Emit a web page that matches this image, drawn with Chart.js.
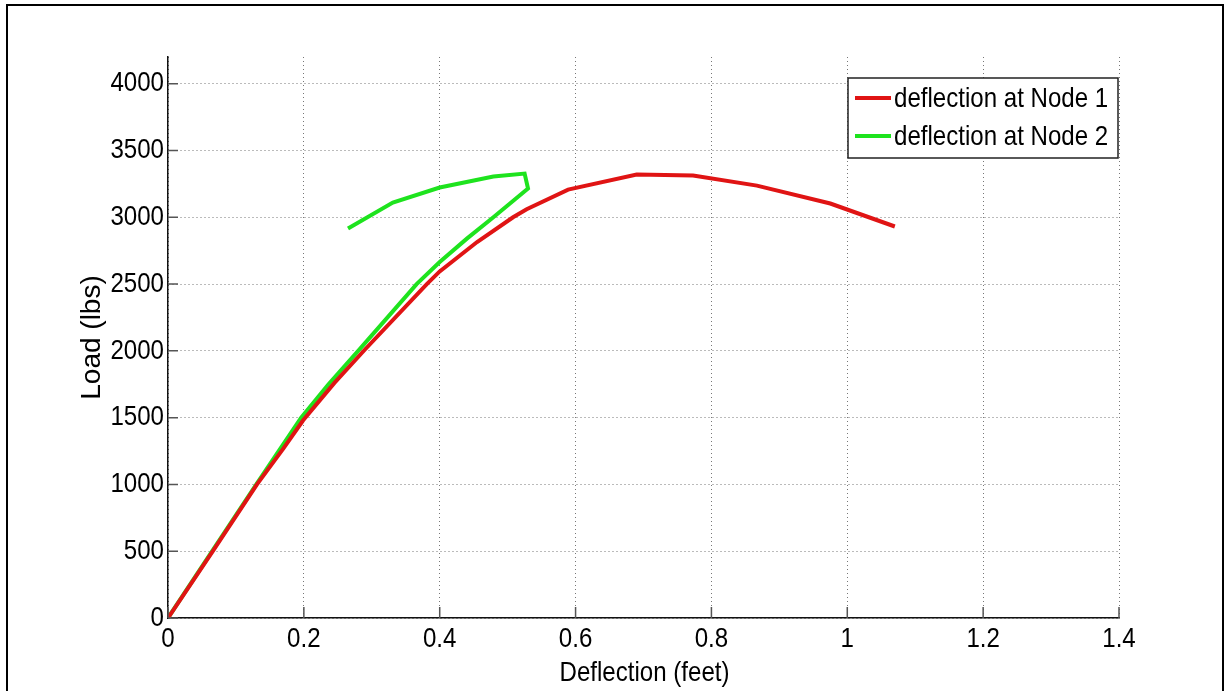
<!DOCTYPE html>
<html>
<head>
<meta charset="utf-8">
<title>Load vs Deflection</title>
<script src="https://cdn.jsdelivr.net/npm/chart.js@4.4.1/dist/chart.umd.min.js"></script>
<style>
  html, body { margin: 0; padding: 0; background: #fff; }
  #wrap { position: relative; width: 1231px; height: 691px; overflow: hidden; }
  #frame { position: absolute; left: 6px; top: 4px; width: 1214px; height: 720px; border: 2px solid #000; pointer-events: none; }
</style>
</head>
<body>
<div id="wrap">
  <canvas id="loadChart" width="1231" height="691"></canvas>
  <div id="frame"></div>
</div>
<script>
var xTicks = [0, 0.2, 0.4, 0.6, 0.8, 1, 1.2, 1.4];
var yTicks = [0, 500, 1000, 1500, 2000, 2500, 3000, 3500, 4000];

var node1Deflection = [0, 0.066, 0.131, 0.170, 0.199, 0.245, 0.290, 0.381, 0.400, 0.455, 0.508, 0.528, 0.589, 0.690, 0.773, 0.867, 0.975, 1.070];
var node1Load       = [0, 500, 1000, 1270, 1480, 1760, 2010, 2500, 2595, 2815, 3000, 3060, 3207, 3320, 3312, 3237, 3103, 2931];

var node2Deflection = [0, 0.065, 0.130, 0.196, 0.236, 0.280, 0.366, 0.400, 0.440, 0.479, 0.530, 0.525, 0.479, 0.400, 0.331, 0.265];
var node2Load       = [0, 500, 1000, 1500, 1748, 2000, 2500, 2665, 2840, 3000, 3215, 3327, 3305, 3223, 3110, 2916];

var seriesNames = ['deflection at Node 1', 'deflection at Node 2'];
var seriesColors = ['#e01414', '#1ee31e'];

var xTitle = 'Deflection (feet)';
var yTitle = 'Load (lbs)';

var fontFamily = "'Liberation Sans', Arial, sans-serif";
var squeeze = 0.86;   // narrow look of the labels

function toPoints(xs, ys) {
  return xs.map(function(x, i) { return {x: x, y: ys[i]}; });
}

function narrowText(ctx, text, x, y, align) {
  ctx.save();
  ctx.translate(x, y);
  ctx.scale(squeeze, 1);
  ctx.textAlign = align;
  ctx.textBaseline = 'middle';
  ctx.fillText(text, 0, 0);
  ctx.restore();
}

// matlab style tick marks pointing into the plot, plus the tick labels
var axisDecor = {
  id: 'axisDecor',
  afterDatasetsDraw: function(chart) {
    var ctx = chart.ctx, area = chart.chartArea;
    var xs = chart.scales.x, ys = chart.scales.y;
    ctx.save();
    ctx.strokeStyle = '#555';
    ctx.lineWidth = 1.5;
    ctx.beginPath();
    xTicks.forEach(function(v) {
      var px = xs.getPixelForValue(v);
      ctx.moveTo(px, area.bottom);
      ctx.lineTo(px, area.bottom - 11);
    });
    yTicks.forEach(function(v) {
      var py = ys.getPixelForValue(v);
      ctx.moveTo(area.left, py);
      ctx.lineTo(area.left + 10, py);
    });
    ctx.stroke();

    ctx.fillStyle = '#000';
    ctx.font = '28px ' + fontFamily;
    xTicks.forEach(function(v) {
      narrowText(ctx, String(v), xs.getPixelForValue(v), area.bottom + 21, 'center');
    });
    yTicks.forEach(function(v) {
      narrowText(ctx, String(v), area.left - 4, ys.getPixelForValue(v), 'right');
    });
    narrowText(ctx, xTitle, (area.left + area.right) / 2 + 1, area.bottom + 55, 'center');
    ctx.restore();
  }
};

// boxed legend in the upper right corner of the axes
var boxLegend = {
  id: 'boxLegend',
  afterDraw: function(chart) {
    var ctx = chart.ctx, area = chart.chartArea;
    var w = 270, h = 80;
    var left = area.right - w - 1, top = area.top + 21;
    ctx.save();
    ctx.fillStyle = '#fff';
    ctx.fillRect(left, top, w, h);
    ctx.strokeStyle = '#222';
    ctx.lineWidth = 1.5;
    ctx.strokeRect(left, top, w, h);
    ctx.font = '28px ' + fontFamily;
    chart.data.datasets.forEach(function(ds, i) {
      var y = top + 20 + i * 38;
      ctx.strokeStyle = ds.borderColor;
      ctx.lineWidth = 4;
      ctx.beginPath();
      ctx.moveTo(left + 7, y);
      ctx.lineTo(left + 43, y);
      ctx.stroke();
      ctx.fillStyle = '#000';
      narrowText(ctx, ds.label, left + 46, y + 1, 'left');
    });
    ctx.restore();
  }
};

var ctx = document.getElementById('loadChart').getContext('2d');
var chart = new Chart(ctx, {
  type: 'scatter',
  data: {
    datasets: [{
      label: seriesNames[0],
      data: toPoints(node1Deflection, node1Load),
      borderColor: seriesColors[0],
      backgroundColor: seriesColors[0],
      borderWidth: 4,
      showLine: true,
      pointRadius: 0,
      tension: 0
    }, {
      label: seriesNames[1],
      data: toPoints(node2Deflection, node2Load),
      borderColor: seriesColors[1],
      backgroundColor: seriesColors[1],
      borderWidth: 4,
      showLine: true,
      pointRadius: 0,
      tension: 0
    }]
  },
  plugins: [axisDecor, boxLegend],
  options: {
    responsive: false,
    animation: false,
    layout: {
      padding: {left: 0, top: 57, right: 112, bottom: 0}
    },
    plugins: {
      legend: {display: false},
      tooltip: {enabled: false}
    },
    scales: {
      x: {
        type: 'linear',
        min: 0,
        max: 1.4,
        afterFit: function(scale) { scale.height = 73; },
        afterBuildTicks: function(scale) {
          scale.ticks = xTicks.map(function(v) { return {value: v}; });
        },
        ticks: {display: false},
        grid: {
          color: '#777',
          lineWidth: 1,
          drawTicks: false
        },
        border: {
          display: true,
          color: '#111',
          width: 1.5,
          dash: [1, 3]
        }
      },
      y: {
        type: 'linear',
        min: 0,
        max: 4200,
        afterFit: function(scale) { scale.width = 168; },
        afterBuildTicks: function(scale) {
          scale.ticks = yTicks.map(function(v) { return {value: v}; });
        },
        ticks: {display: false},
        grid: {
          color: '#777',
          lineWidth: 1,
          drawTicks: false
        },
        border: {
          display: true,
          color: '#111',
          width: 1.5,
          dash: [1, 3]
        },
        title: {
          display: true,
          text: yTitle,
          color: '#000',
          font: {family: fontFamily, size: 28},
          padding: {top: 75, bottom: 0}
        }
      }
    }
  }
});
</script>
</body>
</html>
